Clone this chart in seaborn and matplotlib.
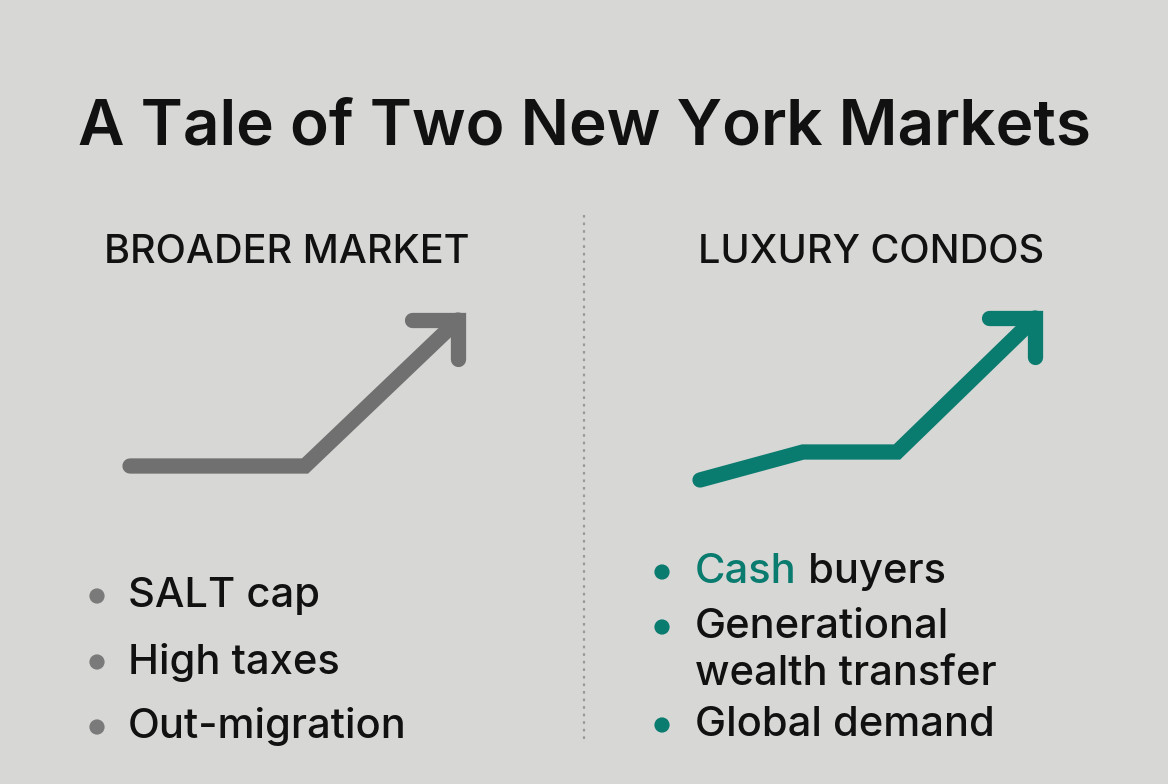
import matplotlib.pyplot as plt
import pandas as pd
import seaborn as sb

# trend lines (canvas pixel coordinates, y downward)
broad_x = [130, 305, 458]
broad_y = [466, 466, 320]
luxury_x = [700, 803, 897, 1035]
luxury_y = [480, 452, 452, 318]

title = "A Tale of Two New York Markets"
headings = ["BROADER MARKET", "LUXURY CONDOS"]
broad_items = ["SALT cap", "High taxes", "Out-migration"]
luxury_items = ["Cash buyers", "Generational\nwealth transfer", "Global demand"]

GRAY = "#6f706f"
TEAL = "#0a7b6f"
BG = "#d7d7d5"
INK = "#111111"

sb.set_style("white")
plt.rcParams["font.family"] = ["Inter", "DejaVu Sans"]

fig = plt.figure(figsize=(11.68, 7.84), dpi=100, facecolor=BG)
ax = fig.add_axes([0, 0, 1, 1])
ax.set_facecolor(BG)
ax.set_xlim(0, 1168)
ax.set_ylim(784, 0)
ax.axis("off")

line_kw = dict(sort=False, estimator=None, lw=11, solid_capstyle="round",
               solid_joinstyle="miter", ax=ax)


def draw_trend(xs, ys, color):
    df = pd.DataFrame({"x": xs, "y": ys})
    sb.lineplot(data=df, x="x", y="y", color=color, **line_kw)
    # arrow head at the last point
    hx, hy = xs[-1], ys[-1]
    head = 46
    sb.lineplot(x=[hx - head, hx, hx], y=[hy, hy, hy + head * 0.85],
                color=color, **line_kw)


draw_trend(broad_x, broad_y, GRAY)
draw_trend(luxury_x, luxury_y, TEAL)

ax.text(585, 128, title, ha="center", va="center", fontsize=46,
        fontweight="semibold", color=INK)
ax.text(287, 252, headings[0], ha="center", va="center", fontsize=28.5,
        fontweight="medium", color=INK)
ax.text(871, 252, headings[1], ha="center", va="center", fontsize=28.5,
        fontweight="medium", color=INK)

# divider
ax.plot([584, 584], [215, 742], color="#9a9a9a", lw=1.6, ls=(0, (1.2, 2.2)))

item_kw = dict(ha="left", va="center", fontsize=30, fontweight="medium")

# left bullets
left_rows = [596, 662, 727]
sb.scatterplot(x=[97] * 3, y=left_rows, color="#7a7a7a", s=120,
               edgecolor="none", ax=ax)
for item, yy in zip(broad_items, left_rows):
    ax.text(128, yy, item, color=INK, **item_kw)

# right bullets
right_rows = [572, 627, 725]
sb.scatterplot(x=[662] * 3, y=right_rows, color=TEAL, s=120,
               edgecolor="none", ax=ax)
first, rest = luxury_items[0].split(" ", 1)
t = ax.text(695, right_rows[0], first, color=TEAL, **item_kw)
fig.canvas.draw()
bb = t.get_window_extent().transformed(ax.transData.inverted())
ax.text(bb.x1, right_rows[0], " " + rest, color=INK, **item_kw)
for k, part in enumerate(luxury_items[1].split("\n")):
    ax.text(695, right_rows[1] + 47 * k, part, color=INK, **item_kw)
ax.text(695, right_rows[2], luxury_items[2], color=INK, **item_kw)

plt.savefig("out.png", dpi=100, facecolor=BG)
